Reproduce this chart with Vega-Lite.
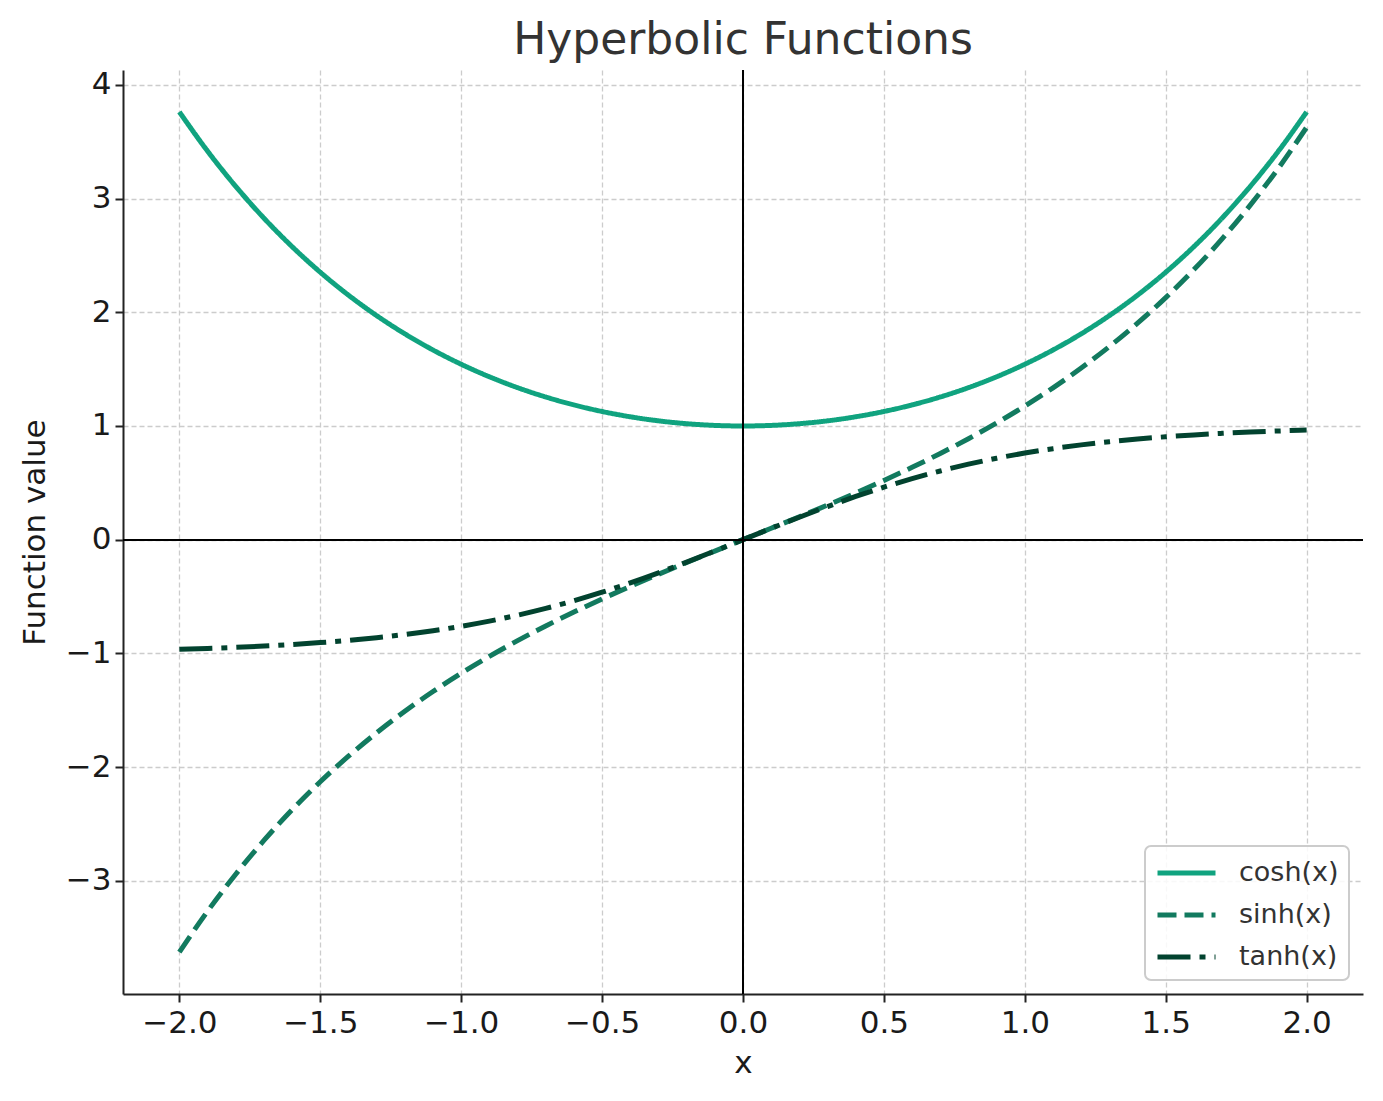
{
  "$schema": "https://vega.github.io/schema/vega-lite/v6.json",
  "autosize": "none",
  "width": 1240,
  "height": 924,
  "padding": {"left": 123, "top": 70, "right": 20, "bottom": 107},
  "background": "white",
  "config": {
    "view": {"stroke": null},
    "font": "DejaVu Sans",
    "legend": {"strokeWidth": 2},
    "axis": {
      "domainColor": "#222222", "domainWidth": 2,
      "tickColor": "#222222", "tickWidth": 2, "tickSize": 8,
      "labelFont": "DejaVu Sans", "labelFontSize": 31, "labelColor": "#1a1a1a",
      "titleFont": "DejaVu Sans", "titleFontSize": 31, "titleFontWeight": "normal", "titleColor": "#1a1a1a",
      "grid": true, "gridColor": "#cccccc", "gridDash": [5, 3], "gridWidth": 1.3
    }
  },
  "title": {"text": "Hyperbolic Functions", "fontSize": 44, "fontWeight": "normal", "color": "#333333", "font": "DejaVu Sans", "anchor": "middle", "offset": 6},
  "data": {"values": [
    {"x": -2.0, "cosh": 3.7622, "sinh": -3.6269, "tanh": -0.9640},
    {"x": -1.9, "cosh": 3.4177, "sinh": -3.2682, "tanh": -0.9562},
    {"x": -1.8, "cosh": 3.1075, "sinh": -2.9422, "tanh": -0.9468},
    {"x": -1.7, "cosh": 2.8283, "sinh": -2.6456, "tanh": -0.9354},
    {"x": -1.6, "cosh": 2.5775, "sinh": -2.3756, "tanh": -0.9217},
    {"x": -1.5, "cosh": 2.3524, "sinh": -2.1293, "tanh": -0.9051},
    {"x": -1.4, "cosh": 2.1509, "sinh": -1.9043, "tanh": -0.8854},
    {"x": -1.3, "cosh": 1.9709, "sinh": -1.6984, "tanh": -0.8617},
    {"x": -1.2, "cosh": 1.8107, "sinh": -1.5095, "tanh": -0.8337},
    {"x": -1.1, "cosh": 1.6685, "sinh": -1.3356, "tanh": -0.8005},
    {"x": -1.0, "cosh": 1.5431, "sinh": -1.1752, "tanh": -0.7616},
    {"x": -0.9, "cosh": 1.4331, "sinh": -1.0265, "tanh": -0.7163},
    {"x": -0.8, "cosh": 1.3374, "sinh": -0.8881, "tanh": -0.6640},
    {"x": -0.7, "cosh": 1.2552, "sinh": -0.7586, "tanh": -0.6044},
    {"x": -0.6, "cosh": 1.1855, "sinh": -0.6367, "tanh": -0.5371},
    {"x": -0.5, "cosh": 1.1276, "sinh": -0.5211, "tanh": -0.4621},
    {"x": -0.4, "cosh": 1.0811, "sinh": -0.4108, "tanh": -0.3799},
    {"x": -0.3, "cosh": 1.0453, "sinh": -0.3045, "tanh": -0.2913},
    {"x": -0.2, "cosh": 1.0201, "sinh": -0.2013, "tanh": -0.1974},
    {"x": -0.1, "cosh": 1.0050, "sinh": -0.1002, "tanh": -0.0997},
    {"x": 0.0, "cosh": 1.0000, "sinh": 0.0, "tanh": 0.0},
    {"x": 0.1, "cosh": 1.0050, "sinh": 0.1002, "tanh": 0.0997},
    {"x": 0.2, "cosh": 1.0201, "sinh": 0.2013, "tanh": 0.1974},
    {"x": 0.3, "cosh": 1.0453, "sinh": 0.3045, "tanh": 0.2913},
    {"x": 0.4, "cosh": 1.0811, "sinh": 0.4108, "tanh": 0.3799},
    {"x": 0.5, "cosh": 1.1276, "sinh": 0.5211, "tanh": 0.4621},
    {"x": 0.6, "cosh": 1.1855, "sinh": 0.6367, "tanh": 0.5371},
    {"x": 0.7, "cosh": 1.2552, "sinh": 0.7586, "tanh": 0.6044},
    {"x": 0.8, "cosh": 1.3374, "sinh": 0.8881, "tanh": 0.6640},
    {"x": 0.9, "cosh": 1.4331, "sinh": 1.0265, "tanh": 0.7163},
    {"x": 1.0, "cosh": 1.5431, "sinh": 1.1752, "tanh": 0.7616},
    {"x": 1.1, "cosh": 1.6685, "sinh": 1.3356, "tanh": 0.8005},
    {"x": 1.2, "cosh": 1.8107, "sinh": 1.5095, "tanh": 0.8337},
    {"x": 1.3, "cosh": 1.9709, "sinh": 1.6984, "tanh": 0.8617},
    {"x": 1.4, "cosh": 2.1509, "sinh": 1.9043, "tanh": 0.8854},
    {"x": 1.5, "cosh": 2.3524, "sinh": 2.1293, "tanh": 0.9051},
    {"x": 1.6, "cosh": 2.5775, "sinh": 2.3756, "tanh": 0.9217},
    {"x": 1.7, "cosh": 2.8283, "sinh": 2.6456, "tanh": 0.9354},
    {"x": 1.8, "cosh": 3.1075, "sinh": 2.9422, "tanh": 0.9468},
    {"x": 1.9, "cosh": 3.4177, "sinh": 3.2682, "tanh": 0.9562},
    {"x": 2.0, "cosh": 3.7622, "sinh": 3.6269, "tanh": 0.9640}
  ]},
  "layer": [
    {
      "transform": [{"fold": ["cosh", "sinh", "tanh"], "as": ["fn", "v"]}],
      "mark": {"type": "line", "strokeWidth": 5, "strokeCap": "butt", "interpolate": "monotone"},
      "encoding": {
        "x": {"field": "x", "type": "quantitative", "title": "x",
              "scale": {"domain": [-2.2, 2.2], "nice": false, "zero": false},
              "axis": {"values": [-2, -1.5, -1, -0.5, 0, 0.5, 1, 1.5, 2], "format": ".1f", "labelPadding": 6, "titlePadding": 10}},
        "y": {"field": "v", "type": "quantitative", "title": "Function value",
              "scale": {"domain": [-3.996, 4.131], "nice": false, "zero": false},
              "axis": {"values": [-3, -2, -1, 0, 1, 2, 3, 4], "format": "d", "labelPadding": 4, "titlePadding": 14}},
        "color": {"field": "fn", "type": "nominal",
                  "scale": {"domain": ["cosh", "sinh", "tanh"], "range": ["#10a37f", "#127a5f", "#02432f"]},
                  "legend": {"title": null, "orient": "bottom-right", "offset": 14,
                             "labelExpr": "datum.label + '(x)'", "labelFontSize": 27, "labelColor": "#333333", "labelFont": "DejaVu Sans",
                             "symbolType": "M-1,0H3", "symbolSize": 841, "symbolStrokeWidth": 5, "labelOffset": 50,
                             "rowPadding": 12, "padding": 10, "strokeColor": "#cccccc", "cornerRadius": 6,
                             "fillColor": "rgba(255,255,255,0.85)"}},
        "strokeDash": {"field": "fn", "type": "nominal",
                       "scale": {"domain": ["cosh", "sinh", "tanh"], "range": [[1, 0], [19, 8], [33, 9, 6, 9]]},
                       "legend": null}
      }
    },
    {
      "mark": {"type": "rule", "color": "black", "strokeWidth": 1.2},
      "encoding": {"x": {"datum": 0}}
    },
    {
      "mark": {"type": "rule", "color": "black", "strokeWidth": 1.2},
      "encoding": {"y": {"datum": 0}}
    }
  ]
}
